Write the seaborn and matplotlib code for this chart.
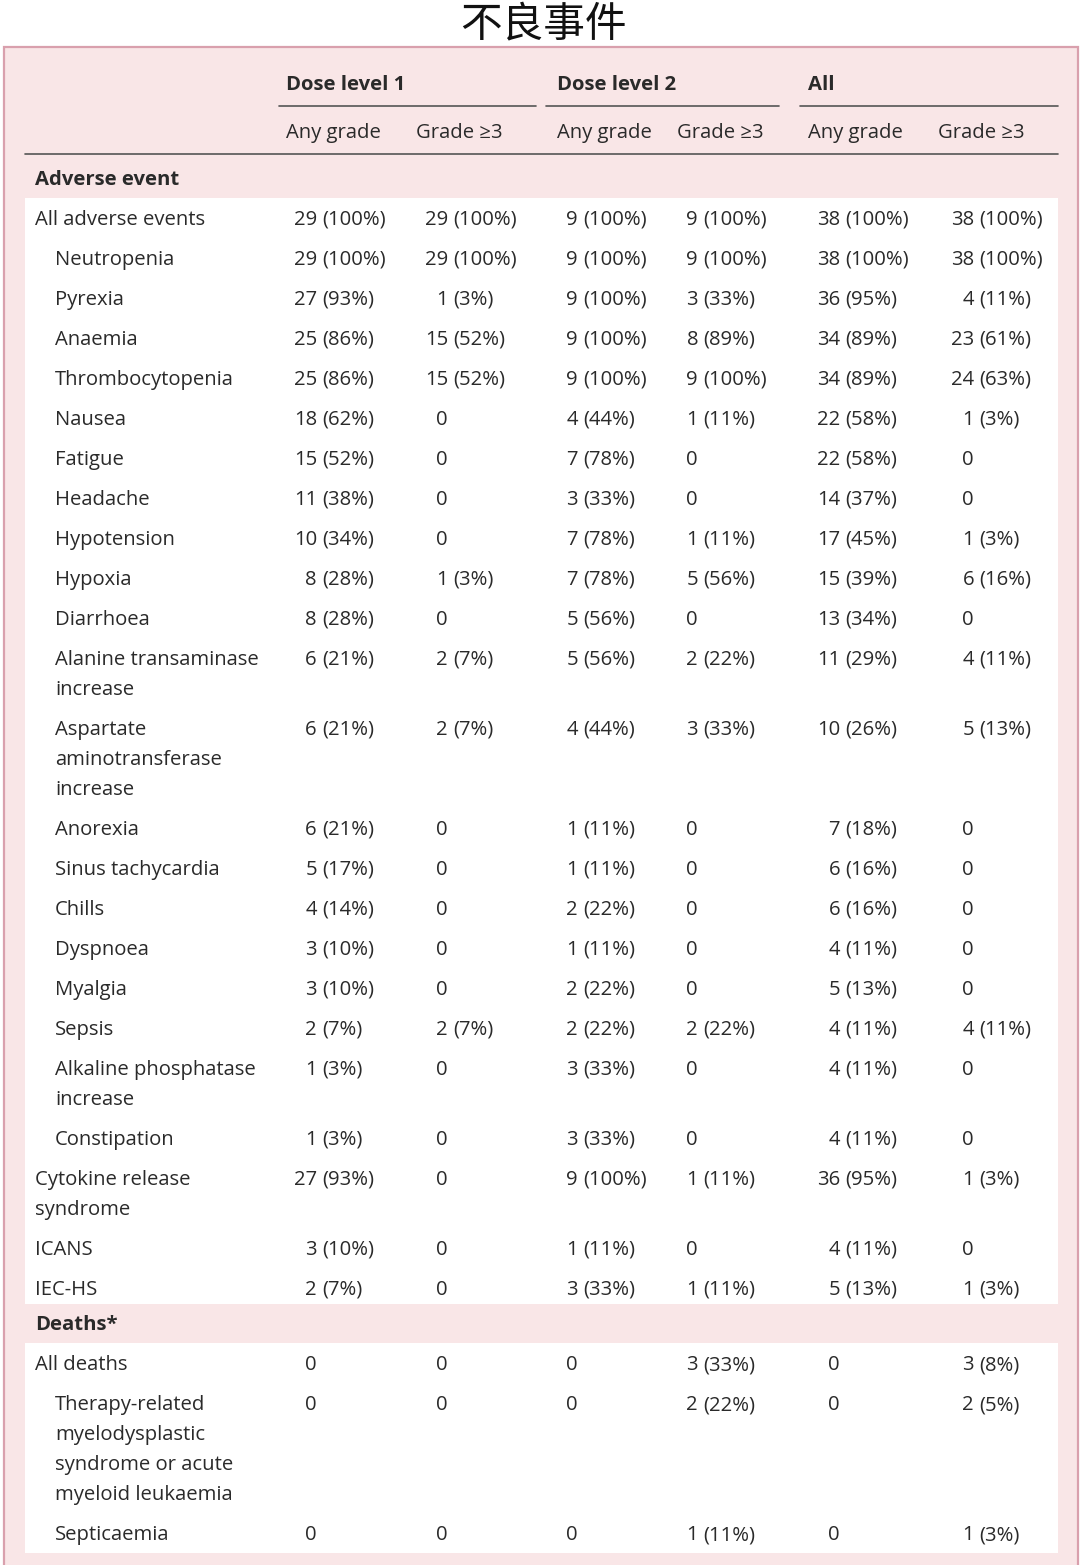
import matplotlib
matplotlib.use("Agg")
import matplotlib.pyplot as plt
import seaborn as sns
from matplotlib.patches import Rectangle

# ---- table data ----
title = "不良事件"
groups = ["Dose level 1", "Dose level 2", "All"]
subheads = ["Any grade", "Grade ≥3"]

ae_labels = [
    "All adverse events", "Neutropenia", "Pyrexia", "Anaemia", "Thrombocytopenia",
    "Nausea", "Fatigue", "Headache", "Hypotension", "Hypoxia", "Diarrhoea",
    "Alanine transaminase\nincrease", "Aspartate\naminotransferase\nincrease",
    "Anorexia", "Sinus tachycardia", "Chills", "Dyspnoea", "Myalgia", "Sepsis",
    "Alkaline phosphatase\nincrease", "Constipation", "Cytokine release\nsyndrome",
    "ICANS", "IEC-HS",
]
ae_level = [0, 1, 1, 1, 1, 1, 1, 1, 1, 1, 1, 1, 1, 1, 1, 1, 1, 1, 1, 1, 1, 0, 0, 0]
ae_dl1_any = ["29 (100%)", "29 (100%)", "27 (93%)", "25 (86%)", "25 (86%)", "18 (62%)",
              "15 (52%)", "11 (38%)", "10 (34%)", "8 (28%)", "8 (28%)", "6 (21%)", "6 (21%)",
              "6 (21%)", "5 (17%)", "4 (14%)", "3 (10%)", "3 (10%)", "2 (7%)", "1 (3%)",
              "1 (3%)", "27 (93%)", "3 (10%)", "2 (7%)"]
ae_dl1_g3 = ["29 (100%)", "29 (100%)", "1 (3%)", "15 (52%)", "15 (52%)", "0", "0", "0",
             "0", "1 (3%)", "0", "2 (7%)", "2 (7%)", "0", "0", "0", "0", "0", "2 (7%)",
             "0", "0", "0", "0", "0"]
ae_dl2_any = ["9 (100%)", "9 (100%)", "9 (100%)", "9 (100%)", "9 (100%)", "4 (44%)",
              "7 (78%)", "3 (33%)", "7 (78%)", "7 (78%)", "5 (56%)", "5 (56%)", "4 (44%)",
              "1 (11%)", "1 (11%)", "2 (22%)", "1 (11%)", "2 (22%)", "2 (22%)", "3 (33%)",
              "3 (33%)", "9 (100%)", "1 (11%)", "3 (33%)"]
ae_dl2_g3 = ["9 (100%)", "9 (100%)", "3 (33%)", "8 (89%)", "9 (100%)", "1 (11%)", "0", "0",
             "1 (11%)", "5 (56%)", "0", "2 (22%)", "3 (33%)", "0", "0", "0", "0", "0",
             "2 (22%)", "0", "0", "1 (11%)", "0", "1 (11%)"]
ae_all_any = ["38 (100%)", "38 (100%)", "36 (95%)", "34 (89%)", "34 (89%)", "22 (58%)",
              "22 (58%)", "14 (37%)", "17 (45%)", "15 (39%)", "13 (34%)", "11 (29%)",
              "10 (26%)", "7 (18%)", "6 (16%)", "6 (16%)", "4 (11%)", "5 (13%)", "4 (11%)",
              "4 (11%)", "4 (11%)", "36 (95%)", "4 (11%)", "5 (13%)"]
ae_all_g3 = ["38 (100%)", "38 (100%)", "4 (11%)", "23 (61%)", "24 (63%)", "1 (3%)", "0", "0",
             "1 (3%)", "6 (16%)", "0", "4 (11%)", "5 (13%)", "0", "0", "0", "0", "0",
             "4 (11%)", "0", "0", "1 (3%)", "0", "1 (3%)"]

death_labels = ["All deaths",
                "Therapy-related\nmyelodysplastic\nsyndrome or acute\nmyeloid leukaemia",
                "Septicaemia"]
death_level = [0, 1, 1]
death_dl1_any = ["0", "0", "0"]
death_dl1_g3 = ["0", "0", "0"]
death_dl2_any = ["0", "0", "0"]
death_dl2_g3 = ["3 (33%)", "2 (22%)", "1 (11%)"]
death_all_any = ["0", "0", "0"]
death_all_g3 = ["3 (8%)", "2 (5%)", "1 (3%)"]

# ---- style ----
sns.set_theme(style="white")
plt.rcParams["font.family"] = ["Open Sans", "Noto Sans CJK SC", "DejaVu Sans"]

W, H = 1080, 1565
PINK = "#f9e6e7"
EDGE = "#d9a0ad"
INK = "#2a2a2a"
LINE = "#555555"
FS = 14.6
LINE_H = 30
ROW_H = 40
col_right = [317, 448, 578, 698, 840, 974]
label_x = [35, 55]

fig = plt.figure(figsize=(W / 100, H / 100), dpi=100)
ax = fig.add_axes([0, 0, 1, 1])
ax.set_xlim(0, W)
ax.set_ylim(H, 0)
ax.axis("off")

ax.text(W / 2 + 3, 25, title, ha="center", va="center", fontsize=30,
        family=["Noto Sans CJK SC"], color="#111111")

ax.add_patch(Rectangle((4, 47), 1074, H, facecolor=PINK, edgecolor=EDGE, lw=1.6))

# header
group_x = [286, 557, 808]
group_lines = [(279, 536), (546, 779), (800, 1058)]
sub_x = [286, 416, 557, 677, 808, 938]
for gx, (x0, x1), name in zip(group_x, group_lines, groups):
    ax.text(gx, 85, name, ha="left", va="center", fontsize=FS, fontweight="bold", color=INK)
    ax.plot([x0, x1], [106, 106], color=LINE, lw=1.2)
for i, sx in enumerate(sub_x):
    ax.text(sx, 133, subheads[i % 2], ha="left", va="center", fontsize=FS, color=INK)
ax.plot([25, 1058], [154, 154], color=LINE, lw=1.2)


def draw_cell(x_r, y, s):
    base = y + 7
    if " " in s:
        n, rest = s.split(" ", 1)
        ax.text(x_r, base, n, ha="right", va="baseline", fontsize=FS, color=INK)
        ax.text(x_r + 5, base, rest, ha="left", va="baseline", fontsize=FS, color=INK)
    else:
        ax.text(x_r, base, s, ha="right", va="baseline", fontsize=FS, color=INK)


def draw_block(y0, labels, levels, cols):
    y = y0
    for i, lab in enumerate(labels):
        lines = lab.split("\n")
        for k, ln in enumerate(lines):
            ax.text(label_x[levels[i]], y + 7 + k * LINE_H, ln, ha="left",
                    va="baseline", fontsize=FS, color=INK)
        for xr, col in zip(col_right, cols):
            draw_cell(xr, y, col[i])
        y += ROW_H + LINE_H * (len(lines) - 1)
    return y


ax.text(35, 180, "Adverse event", ha="left", va="center", fontsize=FS,
        fontweight="bold", color=INK)
ax.add_patch(Rectangle((25, 198), 1033, 1106, facecolor="white", edgecolor="none"))
draw_block(218, ae_labels, ae_level,
           [ae_dl1_any, ae_dl1_g3, ae_dl2_any, ae_dl2_g3, ae_all_any, ae_all_g3])

ax.text(35, 1325, "Deaths*", ha="left", va="center", fontsize=FS,
        fontweight="bold", color=INK)
ax.add_patch(Rectangle((25, 1343), 1033, 210, facecolor="white", edgecolor="none"))
draw_block(1363, death_labels, death_level,
           [death_dl1_any, death_dl1_g3, death_dl2_any, death_dl2_g3, death_all_any, death_all_g3])

fig.savefig("out.png", dpi=100, facecolor="white")
